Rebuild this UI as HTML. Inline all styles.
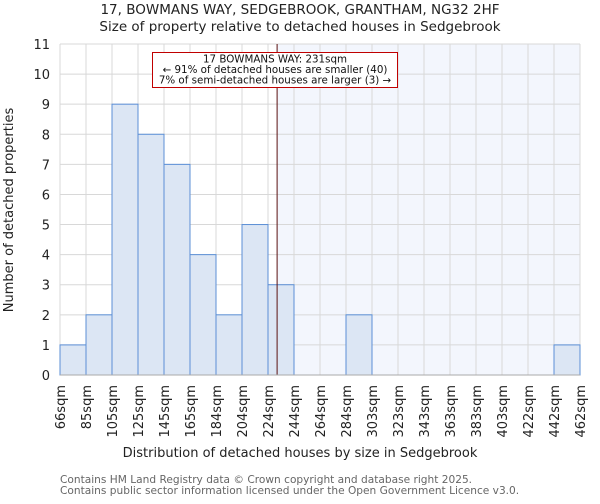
<!DOCTYPE html>
<html><head><meta charset="utf-8"><style>
body{margin:0;background:#fff;font-family:"DejaVu Sans","Liberation Sans",sans-serif}
svg text{font-family:"DejaVu Sans","Liberation Sans",sans-serif}
</style></head><body>
<svg id="c" width="600" height="500" xmlns="http://www.w3.org/2000/svg">
<text x="300" y="14" text-anchor="middle" font-size="13.5" fill="#222">17, BOWMANS WAY, SEDGEBROOK, GRANTHAM, NG32 2HF</text>
<text x="300" y="31" text-anchor="middle" font-size="13.5" fill="#222">Size of property relative to detached houses in Sedgebrook</text>
<g id="plot"></g>
<text x="300" y="457" text-anchor="middle" font-size="13" fill="#222">Distribution of detached houses by size in Sedgebrook</text>
<text transform="translate(13,210) rotate(-90)" text-anchor="middle" font-size="13" fill="#222">Number of detached properties</text>
<text x="60" y="483" font-size="10.6" fill="#666">Contains HM Land Registry data © Crown copyright and database right 2025.</text>
<text x="60" y="494" font-size="10.6" fill="#666">Contains public sector information licensed under the Open Government Licence v3.0.</text>
</svg>
<script>
const categories=["66sqm","85sqm","105sqm","125sqm","145sqm","165sqm","184sqm","204sqm","224sqm","244sqm","264sqm","284sqm","303sqm","323sqm","343sqm","363sqm","383sqm","403sqm","422sqm","442sqm","462sqm"];
const counts=[1,2,9,8,7,4,2,5,3,0,0,2,0,0,0,0,0,0,0,1];
const yTicks=[0,1,2,3,4,5,6,7,8,9,10,11];
const markerBin=8.35;
const NS="http://www.w3.org/2000/svg";
const L=60,R=580,T=44,B=375,yMax=11;
const nb=counts.length,bw=(R-L)/nb;
const xs=i=>L+i*bw, ys=v=>B-(B-T)*v/yMax;
const g=document.getElementById('plot');
function mk(t,a){const e=document.createElementNS(NS,t);for(const k in a)e.setAttribute(k,a[k]);g.appendChild(e);return e;}
let e;
const mx=xs(markerBin);
e=mk('rect',{x:mx,y:T,width:R-mx,height:B-T,fill:'#f3f6fd'});


for(let i=0;i<=nb;i++){e=mk('line',{x1:xs(i),x2:xs(i),y1:T,y2:B,stroke:'#d8d8d8','stroke-width':1});

}
yTicks.forEach(v=>{e=mk('line',{x1:L,x2:R,y1:ys(v),y2:ys(v),stroke:'#d8d8d8','stroke-width':1});


e=mk('text',{x:L-10,y:ys(v)+5,'text-anchor':'end','font-size':13,fill:'#222'});e.textContent=v;

});
counts.forEach((v,i)=>{if(v<=0)return;e=mk('rect',{x:xs(i),y:ys(v),width:bw,height:B-ys(v),fill:'#dce6f4',stroke:'#5b8fd6','stroke-width':1});

});
categories.forEach((c,i)=>{e=mk('text',{transform:`translate(${xs(i)+5},385) rotate(-90)`,'text-anchor':'end','font-size':13,fill:'#222'});e.textContent=c;

});
e=mk('line',{x1:mx,x2:mx,y1:T,y2:B,stroke:'#5a1010','stroke-width':1});


e=mk('line',{x1:L,x2:R,y1:B,y2:B,stroke:'#aaa','stroke-width':1});


e=mk('rect',{x:152.5,y:52.5,width:245,height:35,fill:'#fff',stroke:'#c00000','stroke-width':1});


["17 BOWMANS WAY: 231sqm","← 91% of detached houses are smaller (40)","7% of semi-detached houses are larger (3) →"].forEach((s,i)=>{
e=mk('text',{x:275,y:62.5+i*10.5,'text-anchor':'middle','font-size':10.3,fill:'#111'});e.textContent=s;

});
</script>
</body></html>
